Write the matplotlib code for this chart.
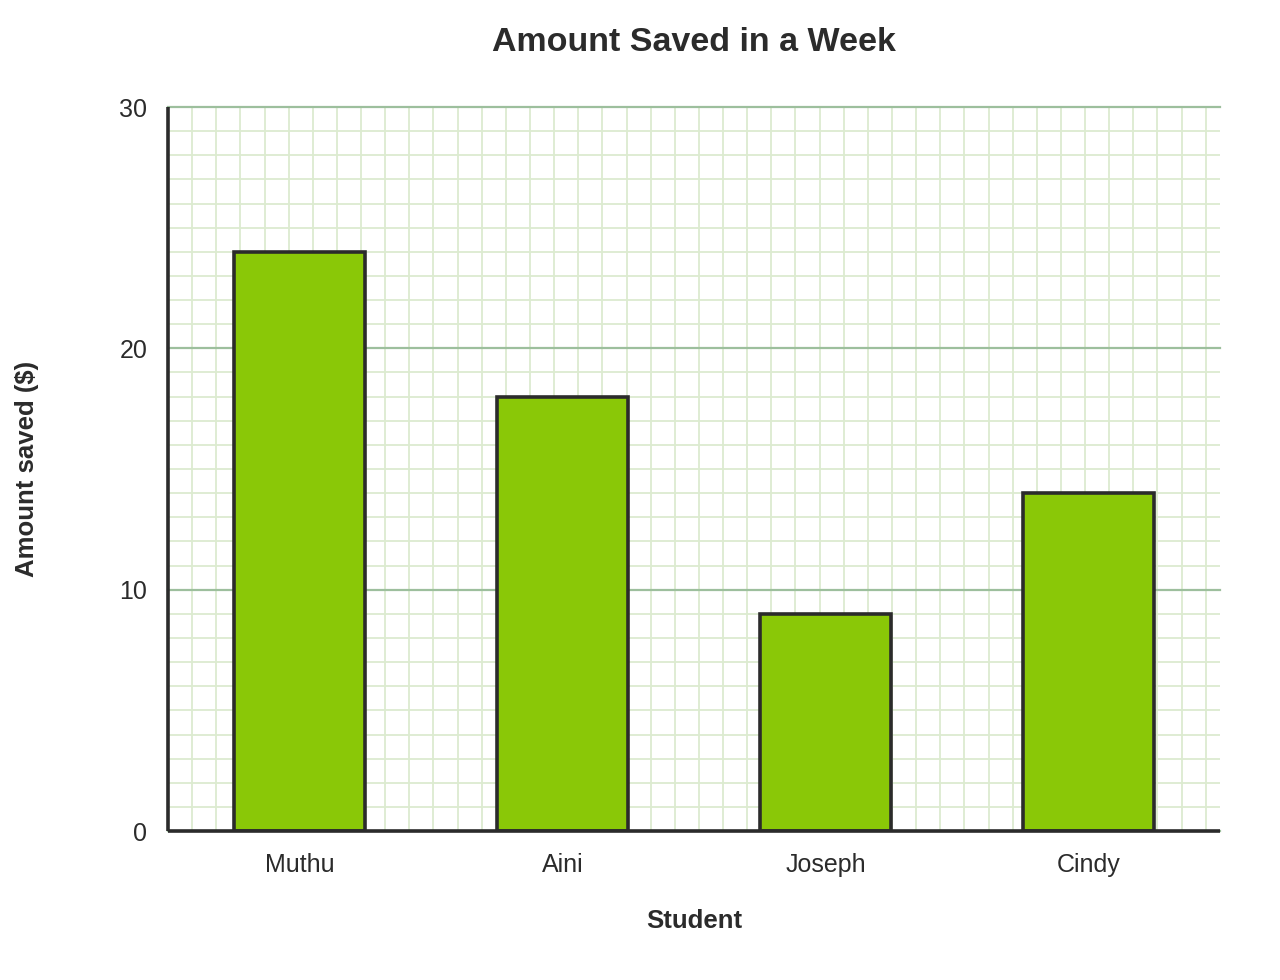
import matplotlib
matplotlib.use("Agg")
import matplotlib.pyplot as plt
import numpy as np

# dane
studenci = ["Muthu", "Aini", "Joseph", "Cindy"]
kwoty = [24, 18, 9, 14]
y_ticki = [0, 10, 20, 30]

plt.rcParams["font.family"] = ["Liberation Sans", "DejaVu Sans"]

fig = plt.figure(figsize=(12.8, 9.8), dpi=100)
ax = fig.add_axes([0.13125, 0.152, 0.8219, 0.7388])

x = list(range(len(studenci)))
ax.bar(x, kwoty, width=0.5, color="#8ac807", edgecolor="#2b2b2b", linewidth=2.6, zorder=3)

ax.set_xlim(-0.5, len(studenci) - 0.5)
ax.set_ylim(0, 30)

# kratka - kwadratowe pola, od lewej krawedzi
bbox = ax.get_window_extent()
krok = (bbox.height / 30) / (bbox.width / len(studenci))
ax.set_xticks(np.arange(-0.5 + krok, len(studenci) - 0.5, krok), minor=True)
ax.set_yticks(np.arange(1, 30, 1), minor=True)
ax.set_yticks(y_ticki)
ax.set_xticks(x)
ax.set_xticklabels(studenci)

ax.grid(True, which="minor", color="#dcebd0", linewidth=1.3, zorder=0)
ax.grid(True, which="major", axis="y", color="#9dbf9d", linewidth=1.6, zorder=1)
ax.set_axisbelow(True)
for line in ax.get_ygridlines():
    line.set_clip_on(False)

for s in ["top", "right"]:
    ax.spines[s].set_visible(False)
for s in ["left", "bottom"]:
    ax.spines[s].set_color("#2b2b2b")
    ax.spines[s].set_linewidth(2.6)
    ax.spines[s].set_capstyle("butt")
    ax.spines[s].set_zorder(4)

ax.tick_params(axis="both", which="both", length=0, labelsize=18, colors="#2b2b2b")
ax.tick_params(axis="x", pad=15.5)
ax.tick_params(axis="y", pad=15)

ax.set_title("Amount Saved in a Week", fontsize=24.5, fontweight="bold", color="#2b2b2b", pad=40)
ax.set_xlabel("Student", fontsize=18.5, fontweight="bold", color="#2b2b2b", labelpad=23.5)
ax.set_ylabel("Amount saved ($)", fontsize=18.5, fontweight="bold", color="#2b2b2b", labelpad=58)

fig.savefig("out.png", dpi=100)
